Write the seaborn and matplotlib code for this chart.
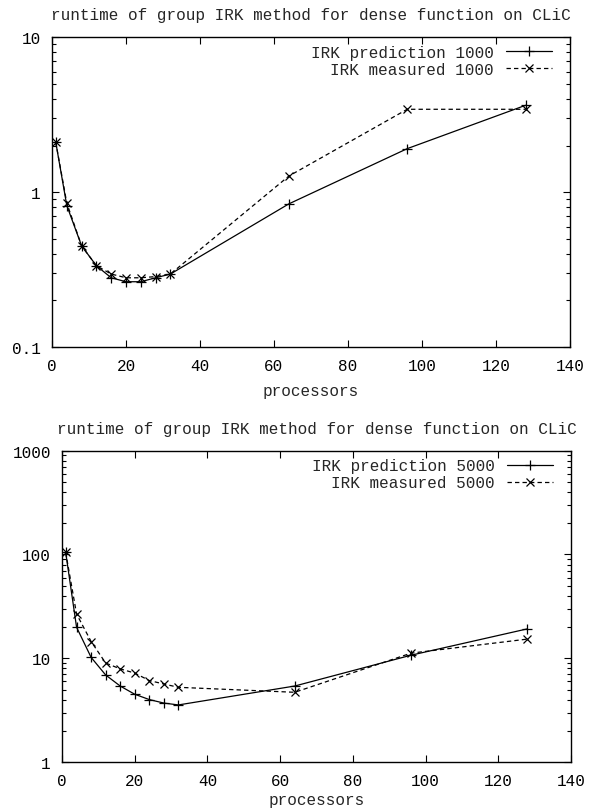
import matplotlib
matplotlib.use("Agg")
import matplotlib.pyplot as plt
import matplotlib.ticker as mticker
import seaborn as sns
import pandas as pd

# runtime (s) of the group IRK method
procs = [1, 4, 8, 12, 16, 20, 24, 28, 32, 64, 96, 128]
pred_1000 = [2.11, 0.82, 0.45, 0.335, 0.28, 0.264, 0.264, 0.28, 0.296, 0.84, 1.91, 3.64]
meas_1000 = [2.11, 0.85, 0.45, 0.335, 0.296, 0.28, 0.28, 0.285, 0.296, 1.27, 3.43, 3.43]
pred_5000 = [105, 19.9, 10.2, 6.9, 5.4, 4.5, 4.0, 3.7, 3.55, 5.4, 10.7, 19.2]
meas_5000 = [105, 26.7, 14.5, 9.0, 7.9, 7.2, 6.1, 5.65, 5.25, 4.7, 11.2, 15.3]

title = "runtime of group IRK method for dense function on CLiC"

sns.set_theme(style="ticks")
plt.rcParams['font.family'] = ['Liberation Mono', 'DejaVu Sans']
fs = 11.5

fig = plt.figure(figsize=(5.93, 8.12), dpi=100)
ax1 = fig.add_axes([0.0877, 0.5714, 0.8735, 0.3814])
ax2 = fig.add_axes([0.1046, 0.0603, 0.8583, 0.3834])


def panel(ax, pred, meas, n, ylim, xpad):
    df = pd.DataFrame({"p": procs, "pred": pred, "meas": meas})
    sns.lineplot(data=df, x="p", y="pred", ax=ax, color="black", lw=0.9,
                 marker="+", markersize=7, markeredgewidth=0.9,
                 markeredgecolor="black", label="IRK prediction %d" % n)
    sns.lineplot(data=df, x="p", y="meas", ax=ax, color="black", lw=0.9,
                 linestyle=(0, (3.5, 2.5)), marker="x", markersize=6,
                 markeredgewidth=0.9, markeredgecolor="black",
                 label="IRK measured %d" % n)
    ax.set_yscale("log")
    ax.set_xlim(0, 140)
    ax.set_ylim(*ylim)
    ax.xaxis.set_major_locator(mticker.MultipleLocator(20))
    ax.yaxis.set_major_formatter(mticker.FuncFormatter(lambda v, p: "%g" % v))
    ax.yaxis.set_minor_formatter(mticker.NullFormatter())
    ax.tick_params(which="both", direction="in", top=True, right=True,
                   colors="black", labelsize=fs, width=0.8)
    ax.tick_params(which="major", length=5)
    ax.tick_params(which="minor", length=3)
    ax.tick_params(axis="x", pad=8)
    ax.tick_params(axis="y", pad=8)
    for s in ax.spines.values():
        s.set_linewidth(1.0)
        s.set_color("black")
    ax.set_xlabel("processors", fontsize=fs, labelpad=xpad)
    ax.set_ylabel("")
    ax.set_title(title, fontsize=fs, pad=13)
    ax.legend(loc="upper right", bbox_to_anchor=(0.965, 0.975),
              markerfirst=False, frameon=False, fontsize=fs,
              borderpad=0, borderaxespad=0, labelspacing=0.1,
              handlelength=2.9, handletextpad=0.75)


panel(ax1, pred_1000, meas_1000, 1000, (0.1, 10), 7)
panel(ax2, pred_5000, meas_5000, 5000, (1, 1000), 3)

fig.savefig("out.png", dpi=100)
